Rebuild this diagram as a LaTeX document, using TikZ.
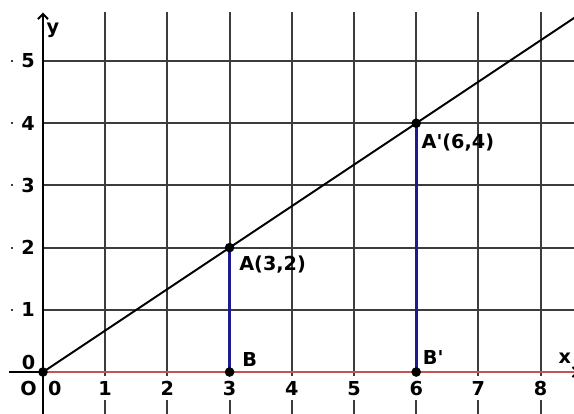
\documentclass[tikz,border=0pt]{standalone}
\usepackage{fontspec}
\setmainfont{DejaVu Sans}
\usetikzlibrary{arrows.meta}
\definecolor{gridgray}{RGB}{60,60,60}
\definecolor{axisred}{RGB}{196,84,84}
\definecolor{segblue}{RGB}{28,28,140}
\tikzset{
  gridline/.style={line width=0.85pt,gridgray},
  axis/.style={line width=0.9pt,black},
  ticklabel/.style={font=\bfseries\fontsize{8.8}{10}\selectfont,fill=white,inner xsep=3.8pt,inner ysep=2.2pt},
  ptlabel/.style={font=\bfseries\fontsize{8.8}{10}\selectfont,inner sep=0pt},
  seg/.style={line width=1.4pt,segblue},
  dot/.style={circle,fill=black,inner sep=0pt,minimum size=4.4pt}
}
\begin{document}
\begin{tikzpicture}[x=1cm,y=1cm]
\useasboundingbox (-0.691,-0.659) rectangle (8.537,5.981);
\foreach \x in {1,...,8}
  \draw[gridline] (\x,-0.7) -- (\x,5.79);
\foreach \y in {1,...,5}
  \draw[gridline] (-0.52,\y) -- (8.6,\y);
\foreach \x in {1,...,8}
  \node[ticklabel] (xl\x) at (\x,-0.26) {\x};
\foreach \y in {1,...,5}
  \node[ticklabel] (yl\y) at (-0.24,\y) {\y};
\node[ticklabel] (xl0) at (0.19,-0.26) {0};
\node[ticklabel,inner xsep=2pt] (yl0) at (-0.23,0.16) {0};
\node[ticklabel,inner xsep=2pt] (orig) at (-0.23,-0.26) {O};
\coordinate (O) at (0,0);
\coordinate (A) at (3,2);
\coordinate (Ap) at (6,4);
\coordinate (B) at (3,0);
\coordinate (Bp) at (6,0);
\coordinate (Xstart) at (-0.55,0);
\coordinate (Xtip) at (8.62,0);
\coordinate (Ybot) at (0,-0.7);
\coordinate (Ytip) at (0,5.78);
\coordinate (Lend) at (8.6,5.733);
\draw[axis,-{Straight Barb[length=2.4pt,width=4.6pt]}] (Xstart) -- (Xtip);
\draw[axis,-{Straight Barb[length=2.4pt,width=4.6pt]}] (Ybot) -- (Ytip);
\draw[axisred,line width=0.8pt] (O) -- (Xtip);
\draw[axis] (O) -- (Lend);
\draw[seg] (B) -- (A);
\draw[seg] (Bp) -- (Ap);
\foreach \p in {O,A,Ap,B,Bp}
  \node[dot] (dot\p) at (\p) {};
\node[ptlabel,anchor=west] (lblA) at (3.15,1.72) {A(3,2)};
\node[ptlabel,anchor=west] (lblAp) at (6.08,3.69) {A\textquotesingle(6,4)};
\node[ptlabel,anchor=south west] (lblB) at (3.2,0.08) {B};
\node[ptlabel,anchor=south west] (lblBp) at (6.1,0.12) {B\textquotesingle};
\node[ptlabel] (lblx) at (8.39,0.22) {x};
\node[ptlabel] (lbly) at (0.16,5.5) {y};
\end{tikzpicture}
\end{document}
